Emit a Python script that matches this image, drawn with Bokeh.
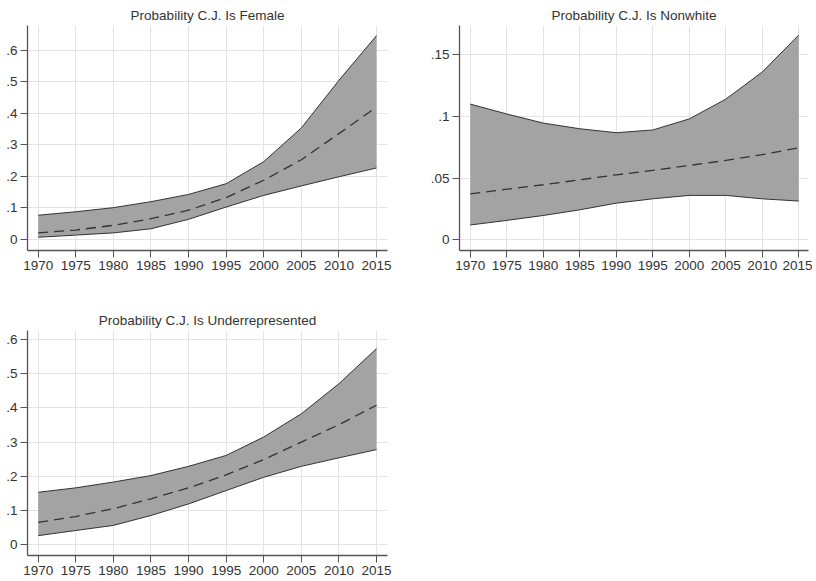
from bokeh.plotting import figure
from bokeh.layouts import row, column
from bokeh.models import FixedTicker
from bokeh.embed import file_html
from bokeh.resources import INLINE

years = [1970, 1975, 1980, 1985, 1990, 1995, 2000, 2005, 2010, 2015]

female_upper = [0.077, 0.088, 0.101, 0.120, 0.143, 0.177, 0.247, 0.354, 0.505, 0.647]
female_mid   = [0.021, 0.030, 0.045, 0.066, 0.093, 0.133, 0.188, 0.253, 0.336, 0.420]
female_lower = [0.007, 0.014, 0.021, 0.034, 0.064, 0.103, 0.140, 0.170, 0.199, 0.227]

nonwhite_upper = [0.110, 0.102, 0.0946, 0.090, 0.0868, 0.089, 0.098, 0.114, 0.136, 0.166]
nonwhite_mid   = [0.0373, 0.041, 0.0446, 0.0486, 0.0527, 0.0562, 0.0603, 0.0643, 0.069, 0.0746]
nonwhite_lower = [0.012, 0.0157, 0.0197, 0.0243, 0.0297, 0.0332, 0.036, 0.036, 0.0332, 0.0314]

under_upper = [0.153, 0.166, 0.183, 0.202, 0.229, 0.261, 0.315, 0.383, 0.471, 0.574]
under_mid   = [0.065, 0.082, 0.105, 0.134, 0.166, 0.204, 0.249, 0.300, 0.351, 0.408]
under_lower = [0.026, 0.041, 0.056, 0.085, 0.119, 0.158, 0.197, 0.229, 0.254, 0.278]

female_yticks = [0, 0.1, 0.2, 0.3, 0.4, 0.5, 0.6]
female_ylabels = ["0", ".1", ".2", ".3", ".4", ".5", ".6"]
nonwhite_yticks = [0, 0.05, 0.1, 0.15]
nonwhite_ylabels = ["0", ".05", ".1", ".15"]
under_yticks = [0, 0.1, 0.2, 0.3, 0.4, 0.5, 0.6]
under_ylabels = ["0", ".1", ".2", ".3", ".4", ".5", ".6"]

FONT = "Liberation Sans"


def panel(title, up, mid, lo, yticks, ylabels, yr, xr, w, h, bl, br, bt, bb):
    p = figure(width=w, height=h, x_range=xr, y_range=yr, output_backend="svg",
               toolbar_location=None, title=title,
               min_border_left=bl, min_border_right=br, min_border_top=bt, min_border_bottom=bb)
    p.title.align = "center"
    p.title.text_font = FONT
    p.title.text_font_size = "13.5px"
    p.title.text_font_style = "normal"
    p.title.text_color = "#333333"
    p.title.standoff = 5
    p.outline_line_color = None
    p.background_fill_color = "white"
    p.border_fill_color = "white"

    p.varea(x=years, y1=lo, y2=up, fill_color="#a3a3a3")
    p.line(years, up, line_color="#333333", line_width=1)
    p.line(years, lo, line_color="#333333", line_width=1)
    p.line(years, mid, line_color="#333333", line_width=1.3, line_dash="10 6")

    p.xaxis.ticker = FixedTicker(ticks=years)
    p.yaxis.ticker = FixedTicker(ticks=yticks)
    p.yaxis.major_label_overrides = {t: l for t, l in zip(yticks, ylabels)}
    for ax in (p.xaxis, p.yaxis):
        ax.axis_line_color = "#555555"
        ax.axis_line_width = 1.3
        ax.major_tick_line_color = "#555555"
        ax.major_tick_in = 0
        ax.major_tick_out = 7
        ax.minor_tick_line_color = None
        ax.major_label_text_font = FONT
        ax.major_label_text_font_size = "13.5px"
        ax.major_label_text_color = "#333333"
        ax.major_label_standoff = 3
    p.xgrid.grid_line_color = "#e3e3e3"
    p.ygrid.grid_line_color = "#e3e3e3"
    return p


p1 = panel("Probability C.J. Is Female", female_upper, female_mid, female_lower,
           female_yticks, female_ylabels, (-0.0349, 0.679), (1968.58, 2016.46),
           408, 285, 27, 21, 25, 35)
p2 = panel("Probability C.J. Is Nonwhite", nonwhite_upper, nonwhite_mid, nonwhite_lower,
           nonwhite_yticks, nonwhite_ylabels, (-0.00868, 0.1737), (1968.53, 2016.33),
           404, 285, 51, 4, 25, 35)
p3 = panel("Probability C.J. Is Underrepresented", under_upper, under_mid, under_lower,
           under_yticks, under_ylabels, (-0.0322, 0.627), (1968.58, 2016.46),
           408, 292, 27, 21, 45, 22)

layout = row(column(p1, p3, spacing=0), p2, spacing=0)

open("out.html", "w").write(file_html(layout, INLINE))
